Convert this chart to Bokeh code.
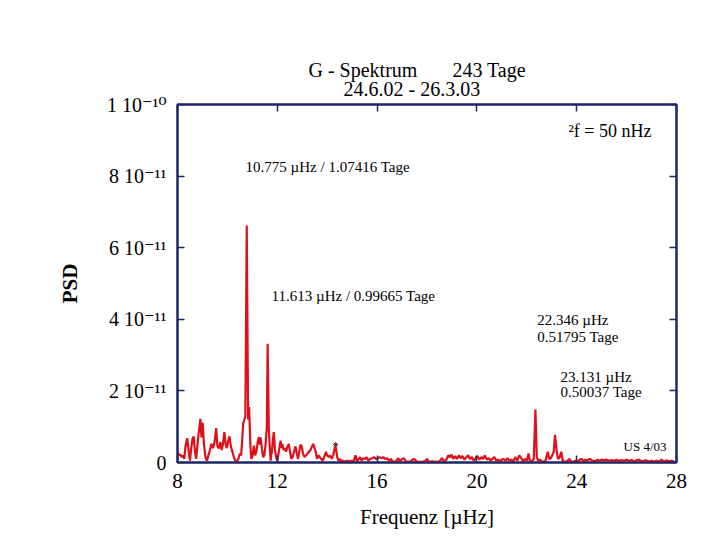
from bokeh.plotting import figure
from bokeh.models import Range1d, LinearAxis, FixedTicker, Label, Title
from bokeh.embed import file_html
from bokeh.resources import INLINE

# ---- data (PSD in units of 1e-11) ----
freq = [8.00, 8.03, 8.08, 8.12, 8.17, 8.22, 8.27, 8.32, 8.39, 8.45, 8.50, 8.55, 8.60, 8.65, 8.70, 8.75,
        8.80, 8.86, 8.92, 8.96, 9.01, 9.06, 9.12, 9.18, 9.24, 9.30, 9.36, 9.42, 9.48, 9.55, 9.60, 9.66,
        9.72, 9.77, 9.82, 9.88, 9.93, 9.98, 10.03, 10.08, 10.14, 10.20, 10.26, 10.32, 10.38, 10.44, 10.50,
        10.55, 10.60, 10.63, 10.67, 10.72, 10.775, 10.83, 10.87, 10.92, 10.96, 11.01, 11.06, 11.11, 11.16,
        11.21, 11.26, 11.30, 11.33, 11.38, 11.43, 11.48, 11.53, 11.58, 11.613, 11.66, 11.70, 11.73, 11.78,
        11.82, 11.86, 11.90, 11.95, 12.00, 12.06, 12.13, 12.17, 12.20, 12.25, 12.30, 12.35, 12.41, 12.46,
        12.51, 12.56, 12.61, 12.67, 12.73, 12.78, 12.83, 12.88, 12.93, 12.98, 13.03, 13.09, 13.15, 13.21,
        13.27, 13.33, 13.39, 13.44, 13.49, 13.54, 13.59, 13.65, 13.70, 13.76, 13.82, 13.88, 13.95, 14.00,
        14.06, 14.12, 14.18, 14.24, 14.30, 14.34, 14.40, 14.46, 14.52, 14.58, 14.64, 14.72, 14.80, 14.90,
        15.00, 15.06, 15.13, 15.20, 15.25, 15.32, 15.38, 15.45, 15.52, 15.58, 15.65, 15.72, 15.80, 15.88,
        15.95, 16.02, 16.10, 16.18, 16.25, 16.32, 16.40, 16.48, 16.55, 16.62, 16.70, 16.78, 16.85, 16.92,
        17.00, 17.08, 17.15, 17.25, 17.35, 17.45, 17.52, 17.60, 17.75, 17.90, 18.00, 18.08, 18.20, 18.35,
        18.50, 18.60, 18.68, 18.78, 18.85, 18.92, 18.98, 19.05, 19.12, 19.20, 19.28, 19.35, 19.42, 19.50,
        19.58, 19.65, 19.72, 19.80, 19.88, 19.95, 20.02, 20.10, 20.18, 20.25, 20.32, 20.40, 20.48, 20.55,
        20.62, 20.70, 20.78, 20.85, 20.92, 21.00, 21.08, 21.15, 21.22, 21.30, 21.38, 21.45, 21.55, 21.62,
        21.70, 21.78, 21.85, 21.92, 22.00, 22.07, 22.12, 22.20, 22.28, 22.346, 22.40, 22.46, 22.52, 22.60,
        22.68, 22.75, 22.84, 22.90, 22.96, 23.02, 23.08, 23.131, 23.20, 23.25, 23.32, 23.38, 23.44, 23.52,
        23.60, 23.70, 23.78, 23.88, 23.95, 24.05, 24.12, 24.20, 24.28, 24.35, 24.42, 24.50, 24.58, 24.65,
        24.75, 24.85, 24.92, 25.00, 25.10, 25.20, 25.30, 25.40, 25.50, 25.60, 25.70, 25.80, 25.90, 26.00,
        26.10, 26.20, 26.30, 26.40, 26.50, 26.60, 26.70, 26.80, 26.90, 27.00, 27.10, 27.20, 27.30, 27.40,
        27.50, 27.60, 27.70, 27.80, 27.90]
psd = [0.30, 0.25, 0.20, 0.22, 0.15, 0.20, 0.10, 0.45, 0.68, 0.30, 0.05, 0.40, 0.65, 0.73, 0.30, 0.10,
       0.50, 0.90, 1.22, 0.70, 1.11, 0.50, 0.15, 0.05, 0.20, 0.35, 0.52, 0.40, 0.55, 0.96, 0.45, 0.40,
       0.57, 0.35, 0.50, 0.85, 0.50, 0.40, 0.60, 0.73, 0.45, 0.30, 0.15, 0.05, 0.02, 0.10, 0.25,
       0.20, 0.70, 1.08, 1.17, 1.30, 6.62, 1.20, 1.55, 0.50, 0.10, 0.20, 0.47, 0.20, 0.30,
       0.55, 0.71, 0.50, 0.70, 0.40, 0.15, 0.20, 0.50, 1.00, 3.32, 0.93, 0.40, 0.05, 0.30,
       0.60, 0.85, 0.40, 0.15, 0.05, 0.30, 0.61, 0.40, 0.52, 0.35, 0.40, 0.30, 0.45, 0.52,
       0.30, 0.10, 0.15, 0.30, 0.45, 0.25, 0.10, 0.30, 0.50, 0.45, 0.25, 0.15, 0.20, 0.25,
       0.30, 0.35, 0.45, 0.52, 0.40, 0.30, 0.10, 0.20, 0.15, 0.10, 0.05, 0.15, 0.30, 0.20,
       0.15, 0.20, 0.10, 0.20, 0.40, 0.45, 0.15, 0.05, 0.10, 0.02, 0.05, 0.02, 0.05, 0.03,
       0.05, 0.02, 0.20, 0.03, 0.08, 0.15, 0.05, 0.12, 0.10, 0.15, 0.05, 0.10, 0.12, 0.15,
       0.10, 0.12, 0.15, 0.12, 0.15, 0.10, 0.12, 0.05, 0.10, 0.03, 0.02, 0.05, 0.12, 0.03,
       0.10, 0.12, 0.03, 0.02, 0.03, 0.10, 0.08, 0.02, 0.02, 0.03, 0.10, 0.02, 0.03, 0.02,
       0.03, 0.12, 0.03, 0.08, 0.20, 0.15, 0.22, 0.10, 0.18, 0.10, 0.20, 0.12, 0.18, 0.08,
       0.15, 0.20, 0.10, 0.15, 0.05, 0.12, 0.18, 0.08, 0.15, 0.10, 0.20, 0.08, 0.12, 0.05,
       0.10, 0.15, 0.05, 0.08, 0.03, 0.08, 0.10, 0.05, 0.12, 0.05, 0.08, 0.03, 0.15, 0.05,
       0.20, 0.12, 0.03, 0.10, 0.05, 0.25, 0.05, 0.02, 0.10, 1.48, 0.15, 0.05, 0.08, 0.03,
       0.02, 0.05, 0.30, 0.10, 0.12, 0.20, 0.30, 0.77, 0.30, 0.10, 0.15, 0.30, 0.05, 0.02,
       0.03, 0.10, 0.03, 0.02, 0.05, 0.03, 0.08, 0.10, 0.03, 0.08, 0.05, 0.10, 0.08, 0.03,
       0.05, 0.08, 0.05, 0.08, 0.06, 0.08, 0.05, 0.07, 0.05, 0.08, 0.04, 0.07, 0.05, 0.08,
       0.04, 0.07, 0.03, 0.06, 0.08, 0.03, 0.05, 0.06, 0.02, 0.05, 0.02, 0.05, 0.02, 0.08,
       0.02, 0.06, 0.03, 0.05, 0.03]
star_freq = [14.34]
star_psd = [0.50]

x_ticks = [8, 12, 16, 20, 24, 28]
y_ticks = [0, 2, 4, 6, 8, 10]
y_tick_labels = ["0", "2 10\u207b\u00b9\u00b9", "4 10\u207b\u00b9\u00b9", "6 10\u207b\u00b9\u00b9",
                 "8 10\u207b\u00b9\u00b9", "1 10\u207b\u00b9\u2070"]

title_line1 = "G - Spektrum\u00a0\u00a0\u00a0\u00a0\u00a0\u00a0\u00a0243 Tage"
title_line2 = "24.6.02 - 26.3.03"
notes = [
    ("10.775 \u00b5Hz / 1.07416 Tage", 10.73, 8.26, "15px"),
    ("11.613 \u00b5Hz / 0.99665 Tage", 11.77, 4.64, "15px"),
    ("22.346 \u00b5Hz", 22.42, 3.97, "15px"),
    ("0.51795 Tage", 22.42, 3.50, "15px"),
    ("23.131 \u00b5Hz", 23.35, 2.39, "15px"),
    ("0.50037 Tage", 23.35, 1.97, "15px"),
    ("\u00b2f = 50 nHz", 23.67, 9.26, "18px"),
    ("US 4/03", 25.88, 0.46, "13px"),
]

FONT = "Liberation Serif"
TICKFONT = "Liberation Serif, DejaVu Serif"
AXC = "#1d2666"

p = figure(width=704, height=536, output_backend="svg", toolbar_location=None,
           x_range=Range1d(8, 28), y_range=Range1d(0, 10), title=None,
           min_border_left=177, min_border_right=28, min_border_top=104, min_border_bottom=74)
p.grid.visible = False
p.outline_line_color = AXC
p.outline_line_width = 2
p.background_fill_color = "white"
p.border_fill_color = "white"

p.line(freq, psd, line_color="#e0101a", line_width=2.2)
p.scatter(star_freq, star_psd, marker="asterisk", size=5, line_color="#662222")

def style_axis(ax, show_labels):
    ax.axis_line_color = AXC
    ax.axis_line_width = 2
    ax.major_tick_line_color = AXC
    ax.major_tick_line_width = 1.5
    ax.major_tick_in = 7
    ax.major_tick_out = 0
    ax.minor_tick_line_color = None
    if not show_labels:
        ax.major_label_text_font_size = "0px"
        ax.major_label_standoff = 0

xa = p.xaxis[0]
xa.ticker = FixedTicker(ticks=x_ticks)
style_axis(xa, True)
xa.major_label_text_font = FONT
xa.major_label_text_font_size = "21px"
xa.major_label_text_color = "black"
xa.major_label_standoff = 11
xa.axis_label = "Frequenz [\u00b5Hz]"
xa.axis_label_text_font = FONT
xa.axis_label_text_font_size = "21px"
xa.axis_label_text_font_style = "normal"
xa.axis_label_text_color = "black"
xa.axis_label_standoff = 14

ya = p.yaxis[0]
ya.ticker = FixedTicker(ticks=y_ticks)
style_axis(ya, True)
ya.major_label_overrides = {t: s for t, s in zip(y_ticks, y_tick_labels)}
ya.major_label_text_font = TICKFONT
ya.major_label_text_font_size = "20px"
ya.major_label_text_color = "black"
ya.major_label_standoff = 11
ya.axis_label = "PSD"
ya.axis_label_text_font = FONT
ya.axis_label_text_font_size = "21px"
ya.axis_label_text_font_style = "bold"
ya.axis_label_text_color = "black"
ya.axis_label_standoff = 22

top = LinearAxis(ticker=FixedTicker(ticks=x_ticks),
                 major_label_overrides={t: "" for t in x_ticks})
style_axis(top, False)
p.add_layout(top, "above")
right = LinearAxis(ticker=FixedTicker(ticks=y_ticks),
                   major_label_overrides={t: "" for t in y_ticks})
style_axis(right, False)
p.add_layout(right, "right")

title_text = title_line1 + "\n" + "\u00a0" * 7 + title_line2
t = Title(text=title_text, align="left", offset=131, standoff=9, text_font=FONT,
          text_font_size="20px", text_font_style="normal", text_color="black",
          text_line_height=0.85)
p.add_layout(t, "above")

for txt, fx, fy, fs in notes:
    p.add_layout(Label(x=fx, y=fy, text=txt, text_font=FONT, text_font_size=fs,
                       text_align="left", text_baseline="middle", text_color="black"))

open("out.html", "w").write(file_html(p, INLINE))
